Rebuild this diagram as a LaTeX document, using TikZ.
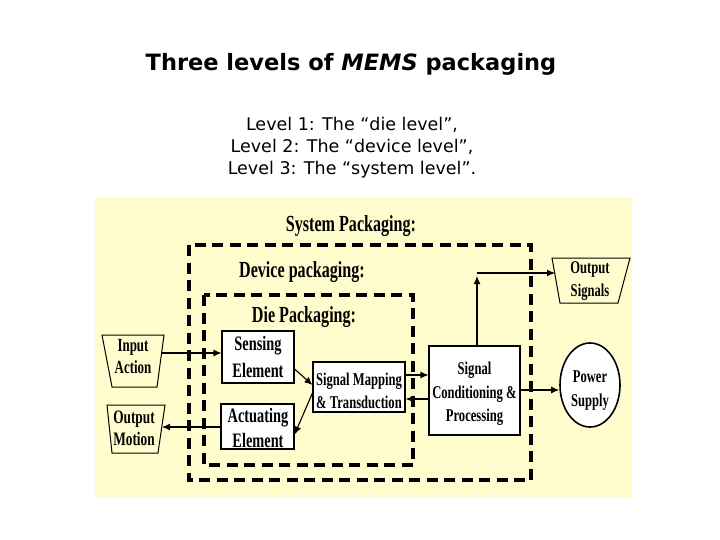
\documentclass[tikz,border=0pt]{standalone}
\usepackage{fontspec}
\usetikzlibrary{arrows.meta,shapes.geometric}
\newfontfamily\ttlfont{DejaVu Sans}
\newfontfamily\dfont[FakeStretch=0.7]{Liberation Serif}
\definecolor{bgyel}{RGB}{255,252,205}
\tikzset{
  lbl/.style={align=center, inner sep=0pt},
  blk/.style={draw=black, fill=white, line width=1.1pt, inner sep=0pt},
  dash box/.style={draw=black, line width=3.4pt, dash pattern=on 11pt off 6.5pt},
  arr/.style={line width=1.1pt, -{Latex[length=8pt,width=7pt]}},
  trap/.style={draw=black, fill=bgyel, line width=1pt},
}
\newcommand{\dfs}[2]{\dfont\bfseries\fontsize{#1}{#2}\selectfont}
\begin{document}
\begin{tikzpicture}[x=1pt,y=-1pt]
\useasboundingbox (0,0) rectangle (720,540);
% title
\node[font=\ttlfont\bfseries\fontsize{22.5}{26}\selectfont, inner sep=0pt] (title) at (351,64) {Three levels of \textit{MEMS} packaging};
\node[font=\ttlfont\fontsize{17.5}{22}\selectfont, align=center, inner sep=0pt] (sub) at (352,148)
  {Level 1: The “die level”,\\Level 2: The “device level”,\\Level 3: The “system level”.};
% background
\fill[bgyel] (95,197) rectangle (632,498);
% packaging levels
\draw[dash box] (189,245) rectangle (531,480);
\draw[dash box] (204,295) rectangle (413,465);
\node[lbl, font=\dfs{23}{26}] (sysl) at (351,226) {System Packaging:};
\node[lbl, font=\dfs{23}{26}] (devl) at (302,272) {Device packaging:};
\node[lbl, font=\dfs{23}{26}] (diel) at (304,317) {Die Packaging:};
% blocks
\node[blk, minimum width=72pt, minimum height=52pt] (sens) at (258,357) {};
\node[lbl, font=\dfs{20.5}{27}] (senst) at (258,357) {Sensing\\Element};
\node[blk, minimum width=73pt, minimum height=45pt] (act) at (257.5,426.5) {};
\node[lbl, font=\dfs{20.5}{25}] (actt) at (258,428) {Actuating\\Element};
\node[blk, minimum width=92pt, minimum height=50pt] (sm) at (359,387) {};
\node[lbl, font=\dfs{18}{23}] (smt) at (359,391) {Signal Mapping\\\& Transduction};
\node[blk, minimum width=91pt, minimum height=89pt] (sc) at (474.5,390.5) {};
\node[lbl, font=\dfs{18}{23.5}] (sct) at (474.5,394) {Signal\\Conditioning \&\\Processing};
\node[blk, ellipse, line width=1.6pt, minimum width=60pt, minimum height=84pt] (pow) at (590,385) {};
\node[lbl, font=\dfs{18}{24}] (powt) at (590,391) {Power\\Supply};
% trapezoids
\draw[trap] (102,335) -- (164,335) -- (157,387) -- (112,387) -- cycle;
\node[lbl, font=\dfs{18.5}{22}] (inA) at (133,357) {Input\\Action};
\draw[trap] (107,405) -- (165,405) -- (158,453) -- (112,453) -- cycle;
\node[lbl, font=\dfs{19}{22}] (outM) at (134,428) {Output\\Motion};
\draw[trap] (552,258) -- (630,258) -- (618,303) -- (560,303) -- cycle;
\node[lbl, font=\dfs{18}{23}] (outS) at (590,281) {Output\\Signals};
% connector end points
\coordinate (inAo) at (161,353);
\coordinate (outMi) at (162,427);
\coordinate (outSi) at (555,273);
\coordinate (corner) at (477,273);
% connectors
\draw[arr] (inAo) -- (sens.west |- inAo);
\draw[arr] ([yshift=-12pt]sens.east) -- ([yshift=2pt]sm.west);
\draw[arr] ([yshift=-6pt]sm.west) -- ([yshift=-8pt]act.east);
\draw[arr] ([yshift=12pt]sm.east) -- ([yshift=15.5pt]sc.west);
\draw[arr] ([yshift=-8.5pt]sc.west) -- ([yshift=-12pt]sm.east);
\draw[arr] (act.west |- outMi) -- (outMi);
\draw[arr] (sc.east |- 0,390) -- (pow.west |- 0,390);
\draw[arr] (sc.north -| corner) -- ([yshift=-3pt]corner);
\draw[arr] (corner) -- (outSi);
\end{tikzpicture}
\end{document}
